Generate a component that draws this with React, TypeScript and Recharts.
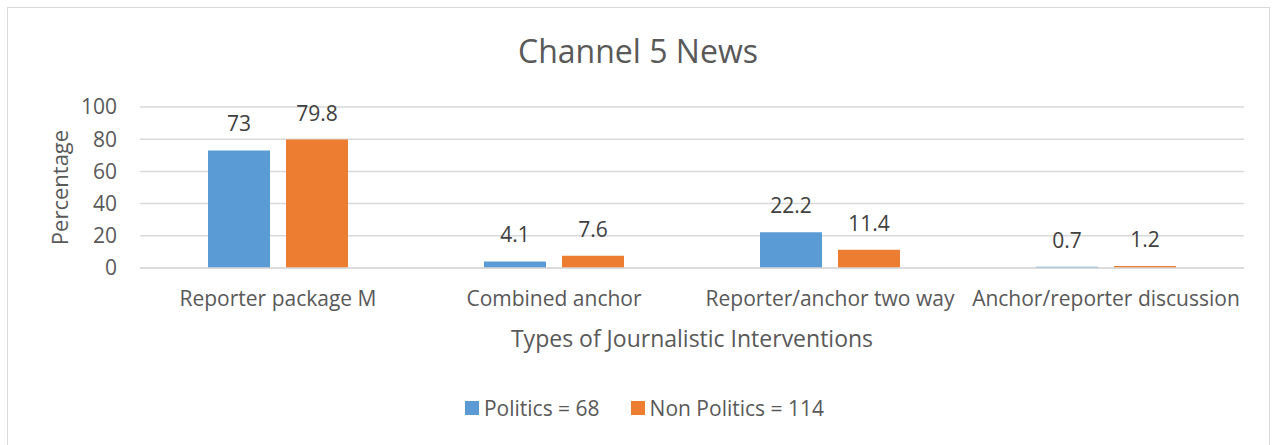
import { BarChart, Bar, XAxis, YAxis, CartesianGrid, LabelList, Label } from 'recharts';

const categories = ['Reporter package M', 'Combined anchor', 'Reporter/anchor two way', 'Anchor/reporter discussion'];
const politics = [73, 4.1, 22.2, 0.7];
const nonPolitics = [79.8, 7.6, 11.4, 1.2];
const yTicks = [0, 20, 40, 60, 80, 100];
const seriesNames = ['Politics = 68', 'Non Politics = 114'];

const BLUE = '#5B9BD5';
const ORANGE = '#ED7D31';
const TEXT = '#595959';
const FONT = '"Open Sans", sans-serif';

const data = categories.map((c, i) => ({ name: c, politics: politics[i], nonPolitics: nonPolitics[i] }));

export default function App() {
  return (
    <div style={{ position: 'absolute', left: 0, top: 0, width: 1276, height: 445, background: '#fff', fontFamily: FONT }}>
      {/* chart frame */}
      <div style={{ position: 'absolute', left: 7, top: 7, width: 1263, height: 445, border: '1px solid #D9D9D9', boxSizing: 'border-box' }} />
      <div style={{ position: 'absolute', left: 0, top: 29, width: 1276, textAlign: 'center', fontSize: 32, color: TEXT }}>
        Channel 5 News
      </div>
      <div style={{ position: 'absolute', top: 0, left: 0 }}>
        <BarChart width={1276} height={445} data={data} margin={{ top: 107, right: 32, left: 40, bottom: 97 }} barSize={62} barGap={16}>
          <CartesianGrid vertical={false} stroke="#D9D9D9" strokeWidth={1.5} />
          <XAxis
            dataKey="name"
            tickLine={false}
            axisLine={{ stroke: '#D9D9D9', strokeWidth: 1.5 }}
            tick={{ fontSize: 21, fill: TEXT, fontFamily: FONT }}
            tickMargin={17}
            height={80}
            interval={0}
          >
            <Label value="Types of Journalistic Interventions" position="insideBottom" offset={1} style={{ fontSize: 23, fill: TEXT, fontFamily: FONT }} />
          </XAxis>
          <YAxis
            domain={[0, 100]}
            ticks={yTicks}
            interval={0}
            tickLine={false}
            axisLine={false}
            tick={{ fontSize: 21, fill: TEXT, fontFamily: FONT }}
            tickMargin={17}
            width={100}
          >
            <Label value="Percentage" angle={-90} position="insideLeft" offset={20} style={{ fontSize: 22, fill: TEXT, fontFamily: FONT, textAnchor: 'middle' }} />
          </YAxis>
          <Bar dataKey="politics" name={seriesNames[0]} fill={BLUE} isAnimationActive={false}>
            <LabelList dataKey="politics" position="top" offset={19} style={{ fontSize: 21, fill: '#404040', fontFamily: FONT }} />
          </Bar>
          <Bar dataKey="nonPolitics" name={seriesNames[1]} fill={ORANGE} isAnimationActive={false}>
            <LabelList dataKey="nonPolitics" position="top" offset={19} style={{ fontSize: 21, fill: '#404040', fontFamily: FONT }} />
          </Bar>
        </BarChart>
      </div>
      {/* legend */}
      <div style={{ position: 'absolute', left: 0, top: 394, width: 1276, paddingLeft: 13, boxSizing: 'border-box', display: 'flex', justifyContent: 'center', alignItems: 'center', gap: 31, fontSize: 21, color: TEXT }}>
        {seriesNames.map((n, i) => (
          <span key={n} style={{ display: 'flex', alignItems: 'center', gap: 5 }}>
            <span style={{ width: 14, height: 14, background: i === 0 ? BLUE : ORANGE, display: 'inline-block' }} />
            {n}
          </span>
        ))}
      </div>
    </div>
  );
}
